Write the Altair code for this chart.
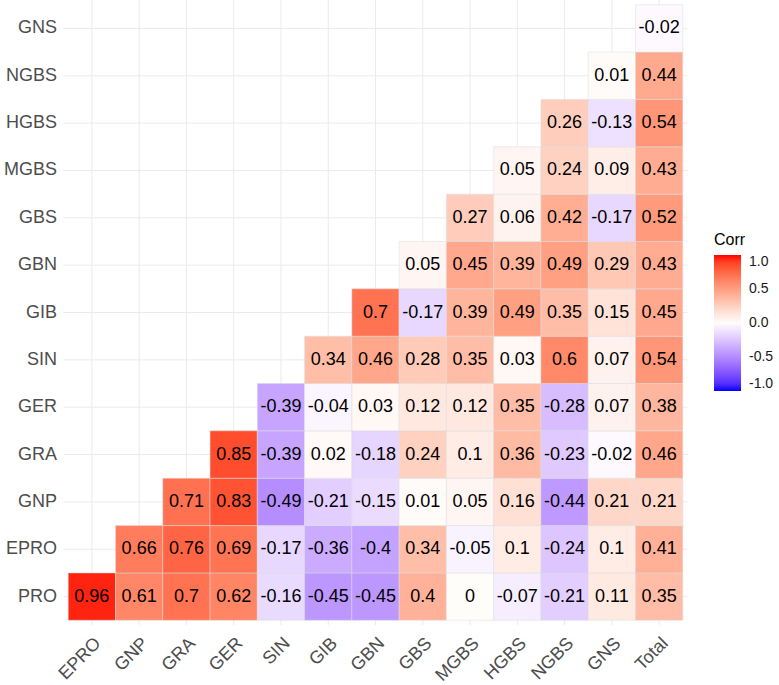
import altair as alt
import pandas as pd

x_cats = ["EPRO", "GNP", "GRA", "GER", "SIN", "GIB", "GBN", "GBS", "MGBS", "HGBS", "NGBS", "GNS", "Total"]
y_cats = ["PRO", "EPRO", "GNP", "GRA", "GER", "SIN", "GIB", "GBN", "GBS", "MGBS", "HGBS", "NGBS", "GNS"]

# each row's values start at column index == row index
row_PRO = [0.96, 0.61, 0.7, 0.62, -0.16, -0.45, -0.45, 0.4, 0, -0.07, -0.21, 0.11, 0.35]
row_EPRO = [0.66, 0.76, 0.69, -0.17, -0.36, -0.4, 0.34, -0.05, 0.1, -0.24, 0.1, 0.41]
row_GNP = [0.71, 0.83, -0.49, -0.21, -0.15, 0.01, 0.05, 0.16, -0.44, 0.21, 0.21]
row_GRA = [0.85, -0.39, 0.02, -0.18, 0.24, 0.1, 0.36, -0.23, -0.02, 0.46]
row_GER = [-0.39, -0.04, 0.03, 0.12, 0.12, 0.35, -0.28, 0.07, 0.38]
row_SIN = [0.34, 0.46, 0.28, 0.35, 0.03, 0.6, 0.07, 0.54]
row_GIB = [0.7, -0.17, 0.39, 0.49, 0.35, 0.15, 0.45]
row_GBN = [0.05, 0.45, 0.39, 0.49, 0.29, 0.43]
row_GBS = [0.27, 0.06, 0.42, -0.17, 0.52]
row_MGBS = [0.05, 0.24, 0.09, 0.43]
row_HGBS = [0.26, -0.13, 0.54]
row_NGBS = [0.01, 0.44]
row_GNS = [-0.02]

rows = [row_PRO, row_EPRO, row_GNP, row_GRA, row_GER, row_SIN, row_GIB,
        row_GBN, row_GBS, row_MGBS, row_HGBS, row_NGBS, row_GNS]

recs = []
for i, (yname, vals) in enumerate(zip(y_cats, rows)):
    for k, v in enumerate(vals):
        recs.append({"Var1": x_cats[i + k], "Var2": yname, "Corr": v,
                     "label": f"{v:g}" if v != 0 else "0"})
df = pd.DataFrame(recs)

# ---- Lab interpolation of the blue-white-red gradient (like ggplot2) ----
def _srgb_to_lin(c):
    c = c / 255.0
    return c / 12.92 if c <= 0.04045 else ((c + 0.055) / 1.055) ** 2.4

def _lin_to_srgb(c):
    c = min(max(c, 0.0), 1.0)
    v = 12.92 * c if c <= 0.0031308 else 1.055 * c ** (1 / 2.4) - 0.055
    return int(round(v * 255))

XN, YN, ZN = 0.95047, 1.0, 1.08883

def _f(t):
    return t ** (1 / 3) if t > 0.008856 else 7.787 * t + 16 / 116

def _finv(t):
    return t ** 3 if t > 0.206893 else (t - 16 / 116) / 7.787

def rgb2lab(rgb):
    r, g, b = (_srgb_to_lin(c) for c in rgb)
    x = 0.4124 * r + 0.3576 * g + 0.1805 * b
    y = 0.2126 * r + 0.7152 * g + 0.0722 * b
    z = 0.0193 * r + 0.1192 * g + 0.9505 * b
    fx, fy, fz = _f(x / XN), _f(y / YN), _f(z / ZN)
    return (116 * fy - 16, 500 * (fx - fy), 200 * (fy - fz))

def lab2hex(lab):
    L, a, bb = lab
    fy = (L + 16) / 116
    fx = fy + a / 500
    fz = fy - bb / 200
    x, y, z = XN * _finv(fx), YN * _finv(fy), ZN * _finv(fz)
    r = 3.2406 * x - 1.5372 * y - 0.4986 * z
    g = -0.9689 * x + 1.8758 * y + 0.0415 * z
    b = 0.0557 * x - 0.2040 * y + 1.0570 * z
    return "#%02x%02x%02x" % (_lin_to_srgb(r), _lin_to_srgb(g), _lin_to_srgb(b))

low, mid, high = rgb2lab((0, 0, 255)), rgb2lab((255, 255, 255)), rgb2lab((255, 0, 0))
N = 20
stops, cols = [], []
for k in range(-N, N + 1):
    t = k / N
    if t < 0:
        s = t + 1
        lab = tuple(low[j] + (mid[j] - low[j]) * s for j in range(3))
    else:
        lab = tuple(mid[j] + (high[j] - mid[j]) * t for j in range(3))
    stops.append(t)
    cols.append(lab2hex(lab))

FONT = "Liberation Sans"

xscale = alt.Scale(domain=x_cats, paddingInner=0, paddingOuter=0.1)
yscale = alt.Scale(domain=y_cats[::-1], paddingInner=0, paddingOuter=0.1)

xenc = alt.X("Var1:N", scale=xscale, sort=x_cats,
             axis=alt.Axis(title=None, labelAngle=-45, labelAlign="right", labelBaseline="top",
                           labelFontSize=18, labelColor="#4d4d4d", labelFont=FONT,
                           labelPadding=9, domain=False, ticks=False, grid=False))
yenc = alt.Y("Var2:N", scale=yscale, sort=y_cats[::-1],
             axis=alt.Axis(title=None, labelFontSize=18, labelColor="#4d4d4d", labelFont=FONT,
                           labelPadding=7, domain=False, ticks=False, grid=False))

grid_v = alt.Chart(pd.DataFrame({"Var1": x_cats})).mark_rule(color="#ebebeb", strokeWidth=1).encode(x=xenc)
grid_h = alt.Chart(pd.DataFrame({"Var2": y_cats})).mark_rule(color="#ebebeb", strokeWidth=1).encode(y=yenc)

base = alt.Chart(df).encode(x=xenc, y=yenc)

tiles = base.mark_rect(stroke="#dcdcdc", strokeWidth=0.5).encode(
    color=alt.Color("Corr:Q",
                    scale=alt.Scale(domain=stops, range=cols),
                    legend=alt.Legend(title="Corr", orient="none", legendX=650.5, legendY=232,
                                      values=[-1, -0.5, 0, 0.5, 1],
                                      labelExpr="datum.value < 0 ? '-' + format(-datum.value, '.1f') : format(datum.value, '.1f')",
                                      gradientLength=136, gradientThickness=27,
                                      titleFontSize=16, titleFont=FONT, titleFontWeight="normal",
                                      titleColor="black", titlePadding=7,
                                      labelFontSize=14, labelFont=FONT, labelColor="#1a1a1a",
                                      labelOffset=8, gradientStrokeWidth=0, direction="vertical"))
)

text = base.mark_text(fontSize=18, font=FONT, color="black").encode(text="label:N")

chart = (grid_v + grid_h + tiles + text).properties(
    width=624, height=625,
    background="white",
    autosize=alt.AutoSizeParams(type="none"),
    padding={"left": 63.5, "top": 0, "right": 91.5, "bottom": 60},
).configure_view(strokeWidth=0, stroke=None)

chart.save("out.html", embed_options={"renderer": "svg", "actions": False})
